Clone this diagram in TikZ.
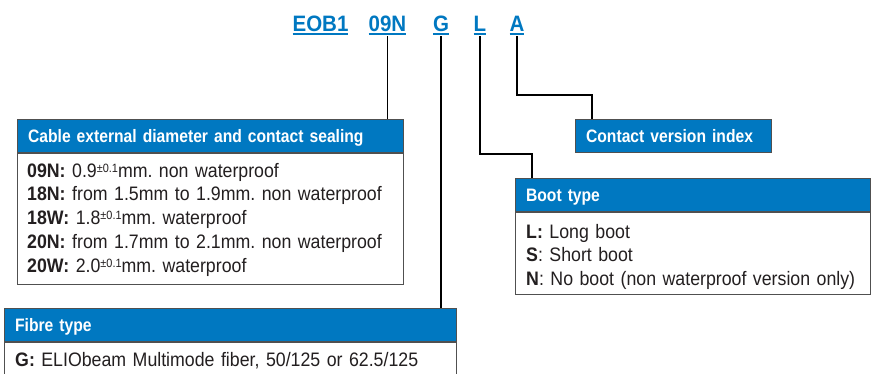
\documentclass[tikz,border=0pt]{standalone}
\usepackage{fontspec}
\setmainfont{Liberation Sans}
\newfontfamily\condfnt{Liberation Sans}[FakeStretch=0.87]
\newfontfamily\codefnt{Liberation Sans}[FakeStretch=0.92]
\newfontfamily\bodyfnt{Liberation Sans}[FakeStretch=0.91]
\usetikzlibrary{positioning}

\definecolor{eblue}{RGB}{0,120,193}
\definecolor{boxgray}{RGB}{80,80,80}
\definecolor{inkgray}{RGB}{35,31,32}

\newcommand{\ulcode}[1]{\setbox0\hbox{#1}\rlap{\rule[-3.5pt]{\wd0}{2pt}}\box0}
\newcommand{\tol}{\raisebox{5pt}{\fontsize{12}{12}\selectfont ±0.1}}

\tikzset{
	code/.style={text=eblue, font=\codefnt\bfseries\fontsize{22.3}{24}\selectfont, anchor=base, inner sep=0pt, text depth=4pt},
	hdr/.style={draw=boxgray, line width=1.2pt, fill=eblue, text=white, font=\condfnt\bfseries\fontsize{18}{20}\selectfont, anchor=north west, minimum height=33pt, inner xsep=10.5pt, inner ysep=0pt, text height=13.5pt, text depth=0pt, align=left},
	bodybox/.style={draw=boxgray, line width=1.2pt, fill=white, anchor=north west, inner sep=0pt},
	bodytxt/.style={text=inkgray, font=\bodyfnt\frenchspacing\fontsize{19.5}{23.8}\selectfont, anchor=base west, inner sep=0pt, align=left, text width=360pt},
	conn/.style={draw=black, line width=1.3pt},
}

\begin{document}
\begin{tikzpicture}[x=1pt, y=-1pt]
	\useasboundingbox (0,0) rectangle (871,374);
	% part number
	\node[code] (ceob) at (320.5,32) {\ulcode{EOB1}};
	\node[code] (c09) at (387.5,32) {\ulcode{09N}};
	\node[code] (cg) at (441,32) {\ulcode{G}};
	\node[code] (cl) at (480,32) {\ulcode{L}};
	\node[code] (ca) at (517,32) {\ulcode{A}};
	% cable diameter
	\node[hdr, minimum width=386pt, text width=365pt] (cablehd) at (17,119) {Cable external diameter and contact sealing};
	\node[bodybox, minimum width=386pt, minimum height=131pt] (cablebox) at (cablehd.south west) {};
	\node[bodytxt] (cabletxt) at ([shift={(10,24)}]cablebox.north west) {\textbf{09N:} 0.9\tol mm. non waterproof\\
		\textbf{18N:} from 1.5mm to 1.9mm. non waterproof\\
		\textbf{18W:} 1.8\tol mm. waterproof\\
		\textbf{20N:} from 1.7mm to 2.1mm. non waterproof\\
		\textbf{20W:} 2.0\tol mm. waterproof};
	% contact version
	\node[hdr, minimum width=196pt, text width=175pt] (contacthd) at (575,119) {Contact version index};
	% boot
	\node[hdr, minimum width=354.5pt, text width=333.5pt] (boothd) at (515,178) {Boot type};
	\node[bodybox, minimum width=354.5pt, minimum height=82pt] (bootbox) at (boothd.south west) {};
	\node[bodytxt] (boottxt) at ([shift={(11,26)}]bootbox.north west) {\textbf{L:} Long boot\\
		\textbf{S}: Short boot\\
		\textbf{N}: No boot (non waterproof version only)};
	% fibre
	\node[hdr, minimum width=452pt, text width=431pt] (fibrehd) at (4,308) {Fibre type};
	\node[bodybox, minimum width=452pt, minimum height=60pt] (fibrebox) at (fibrehd.south west) {};
	\node[bodytxt, text width=430pt] (fibretxt) at ([shift={(11,24)}]fibrebox.north west) {\textbf{G:} ELIObeam Multimode fiber, 50/125 or 62.5/125};
	% leader lines
	\draw[conn] (c09.south) -- (c09.south |- cablehd.north);
	\draw[conn] (cg.south) -- (cg.south |- fibrehd.north);
	\coordinate (lturn) at (532,154);
	\draw[conn] (cl.south) |- (lturn) -- (lturn |- boothd.north);
	\coordinate (aturn) at (592,95);
	\draw[conn] (ca.south) |- (aturn) -- (aturn |- contacthd.north);
\end{tikzpicture}
\end{document}
